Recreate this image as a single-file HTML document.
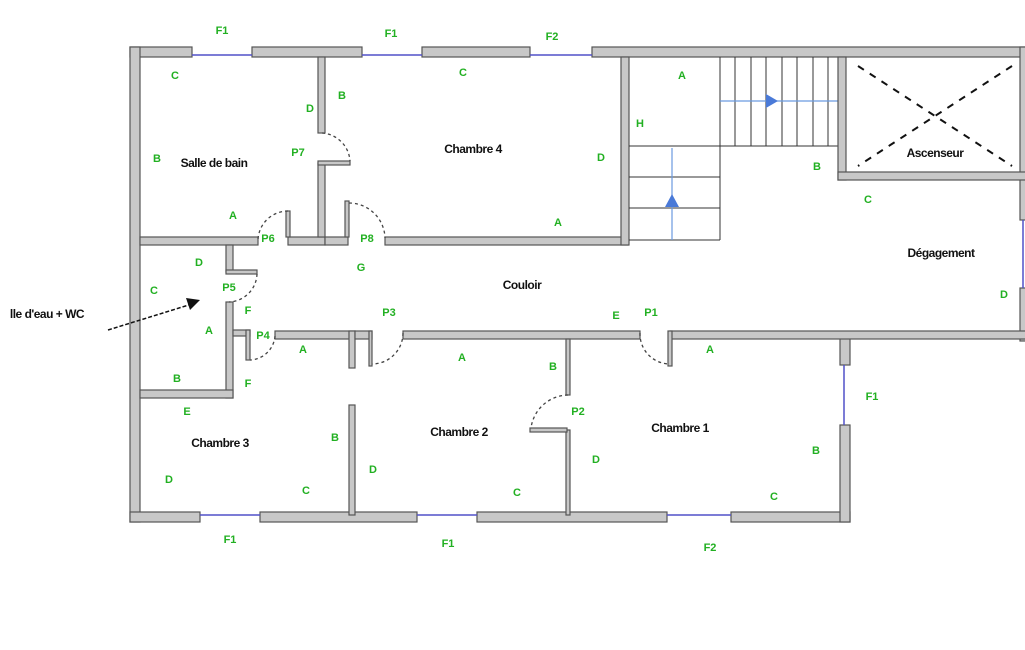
<!DOCTYPE html>
<html><head><meta charset="utf-8"><style>
html,body{margin:0;padding:0;background:#fff;width:1025px;height:650px;overflow:hidden}
svg{display:block}
.w{fill:#c8c8c8;stroke:#555;stroke-width:1.2}
.g{fill:#22b022;font:bold 11px "Liberation Sans",sans-serif;text-anchor:middle}
.k{fill:#111;font:bold 12px "Liberation Sans",sans-serif;text-anchor:middle;letter-spacing:-0.5px}
.win{stroke:#5050c8;stroke-width:1.5}
.d{fill:none;stroke:#444;stroke-width:1.3;stroke-dasharray:3 3}
.s{stroke:#333;stroke-width:1}
</style></head><body>
<svg width="1025" height="650" viewBox="0 0 1025 650" xmlns="http://www.w3.org/2000/svg">
<!-- top wall -->
<rect class="w" x="130" y="47" width="62" height="10"/>
<rect class="w" x="252" y="47" width="110" height="10"/>
<rect class="w" x="422" y="47" width="108" height="10"/>
<rect class="w" x="592" y="47" width="440" height="10"/>
<line class="win" x1="192" y1="55" x2="252" y2="55"/><line class="win" x1="362" y1="55" x2="422" y2="55"/><line class="win" x1="530" y1="55" x2="592" y2="55"/>
<!-- left wall -->
<rect class="w" x="130" y="47" width="10" height="475"/>
<!-- bottom wall -->
<rect class="w" x="130" y="512" width="70" height="10"/>
<rect class="w" x="260" y="512" width="157" height="10"/>
<rect class="w" x="477" y="512" width="190" height="10"/>
<rect class="w" x="731" y="512" width="119" height="10"/>
<line class="win" x1="200" y1="515" x2="260" y2="515"/><line class="win" x1="417" y1="515" x2="477" y2="515"/><line class="win" x1="667" y1="515" x2="731" y2="515"/>
<!-- right lower wall -->
<rect class="w" x="840" y="337" width="10" height="28"/>
<rect class="w" x="840" y="425" width="10" height="97"/>
<line class="win" x1="844" y1="365" x2="844" y2="425"/>
<rect class="w" x="1020" y="47" width="10" height="173"/>
<rect class="w" x="1020" y="288" width="10" height="53"/>
<line class="win" x1="1023" y1="220" x2="1023" y2="288"/>
<!-- bath/ch4 bottom -->
<rect class="w" x="140" y="237" width="118" height="8"/>
<rect class="w" x="288" y="237" width="37" height="8"/>
<rect class="w" x="325" y="237" width="23" height="8"/>
<rect class="w" x="385" y="237" width="243" height="8"/>
<rect class="w" x="318" y="57" width="7" height="76"/>
<rect class="w" x="318" y="163" width="7" height="74"/>
<rect class="w" x="318" y="161" width="32" height="4"/>
<rect class="w" x="286" y="211" width="4" height="26"/>
<rect class="w" x="345" y="201" width="4" height="36"/>
<path class="d" d="M322 133 A30 30 0 0 1 350 161"/>
<path class="d" d="M288 211 A30 30 0 0 0 258 240"/>
<path class="d" d="M349 203 A36 36 0 0 1 385 238"/>
<!-- stair wall -->
<rect class="w" x="621" y="57" width="8" height="188"/>
<!-- stairs -->
<line class="s" x1="629" y1="146" x2="720" y2="146"/>
<line class="s" x1="629" y1="177" x2="720" y2="177"/>
<line class="s" x1="629" y1="208" x2="720" y2="208"/>
<line class="s" x1="629" y1="240" x2="720" y2="240"/>
<line class="s" x1="720" y1="57" x2="720" y2="240"/>
<line class="s" x1="720" y1="146" x2="840" y2="146"/>
<g class="s"><line x1="735" y1="57" x2="735" y2="146"/><line x1="751" y1="57" x2="751" y2="146"/><line x1="766" y1="57" x2="766" y2="146"/><line x1="782" y1="57" x2="782" y2="146"/><line x1="797" y1="57" x2="797" y2="146"/><line x1="813" y1="57" x2="813" y2="146"/><line x1="828" y1="57" x2="828" y2="146"/></g>
<line x1="720" y1="101" x2="838" y2="101" stroke="#6a9ae0" stroke-width="1.2"/>
<polygon points="766,94 778,101 766,108" fill="#4a7ad8"/>
<line x1="672" y1="148" x2="672" y2="240" stroke="#6a9ae0" stroke-width="1.2"/>
<polygon points="665,207 672,194 679,207" fill="#4a7ad8"/>
<!-- elevator -->
<rect class="w" x="838" y="57" width="8" height="123"/>
<rect class="w" x="838" y="172" width="192" height="8"/>
<line x1="858" y1="66" x2="1012" y2="166" stroke="#111" stroke-width="2" stroke-dasharray="7 7"/>
<line x1="1012" y1="66" x2="858" y2="166" stroke="#111" stroke-width="2" stroke-dasharray="7 7"/>
<!-- salle d'eau -->
<rect class="w" x="226" y="245" width="7" height="27"/>
<rect class="w" x="226" y="270" width="31" height="4"/>
<rect class="w" x="226" y="302" width="7" height="96"/>
<rect class="w" x="140" y="390" width="93" height="8"/>
<path class="d" d="M257 274 A29 29 0 0 1 229 302"/>
<!-- corridor bottom -->
<rect class="w" x="233" y="330" width="17" height="6"/>
<rect class="w" x="246" y="330" width="4" height="30"/>
<rect class="w" x="275" y="331" width="80" height="8"/>
<rect class="w" x="349" y="331" width="6" height="37"/>
<rect class="w" x="355" y="331" width="17" height="8"/>
<rect class="w" x="369" y="331" width="3" height="35"/>
<rect class="w" x="403" y="331" width="237" height="8"/>
<rect class="w" x="670" y="331" width="360" height="8"/>
<rect class="w" x="668" y="331" width="4" height="35"/>
<path class="d" d="M275 336 A26 26 0 0 1 250 360"/>
<path class="d" d="M403 333 A31 31 0 0 1 372 364"/>
<path class="d" d="M640 333 A30 30 0 0 0 670 364"/>
<!-- bedrooms dividers -->
<rect class="w" x="349" y="405" width="6" height="110"/>
<rect class="w" x="566" y="339" width="4" height="56"/>
<rect class="w" x="566" y="430" width="4" height="85"/>
<rect class="w" x="530" y="428" width="37" height="4"/>
<path class="d" d="M568 395 A38 38 0 0 0 531 428"/>
<!-- arrow -->
<line x1="108" y1="330" x2="192" y2="304" stroke="#111" stroke-width="1.5" stroke-dasharray="4 2"/>
<polygon points="200,300 186,298 190,310" fill="#111"/>
<!-- labels -->
<g class="g">
<text x="222" y="34">F1</text><text x="391" y="37">F1</text><text x="552" y="40">F2</text>
<text x="175" y="79">C</text><text x="310" y="112">D</text><text x="342" y="99">B</text>
<text x="157" y="162">B</text><text x="298" y="156">P7</text><text x="463" y="76">C</text><text x="601" y="161">D</text>
<text x="233" y="219">A</text><text x="558" y="226">A</text><text x="268" y="242">P6</text><text x="367" y="242">P8</text>
<text x="361" y="271">G</text><text x="199" y="266">D</text><text x="154" y="294">C</text><text x="229" y="291">P5</text>
<text x="248" y="314">F</text><text x="209" y="334">A</text><text x="263" y="339">P4</text><text x="303" y="353">A</text>
<text x="389" y="316">P3</text><text x="616" y="319">E</text><text x="651" y="316">P1</text><text x="710" y="353">A</text>
<text x="462" y="361">A</text><text x="553" y="370">B</text><text x="248" y="387">F</text><text x="177" y="382">B</text>
<text x="187" y="415">E</text><text x="335" y="441">B</text><text x="169" y="483">D</text><text x="306" y="494">C</text>
<text x="373" y="473">D</text><text x="517" y="496">C</text><text x="578" y="415">P2</text><text x="596" y="463">D</text>
<text x="816" y="454">B</text><text x="774" y="500">C</text>
<text x="230" y="543">F1</text><text x="448" y="547">F1</text><text x="710" y="551">F2</text><text x="872" y="400">F1</text>
<text x="682" y="79">A</text><text x="640" y="127">H</text><text x="817" y="170">B</text><text x="868" y="203">C</text><text x="1004" y="298">D</text>
</g>
<g class="k">
<text x="214" y="167">Salle de bain</text><text x="473" y="153">Chambre 4</text><text x="522" y="289">Couloir</text>
<text x="220" y="447">Chambre 3</text><text x="459" y="436">Chambre 2</text><text x="680" y="432">Chambre 1</text>
<text x="935" y="157">Ascenseur</text><text x="941" y="257">Dégagement</text>
<text x="47" y="318">lle d'eau + WC</text>
</g>
</svg>
</body></html>
